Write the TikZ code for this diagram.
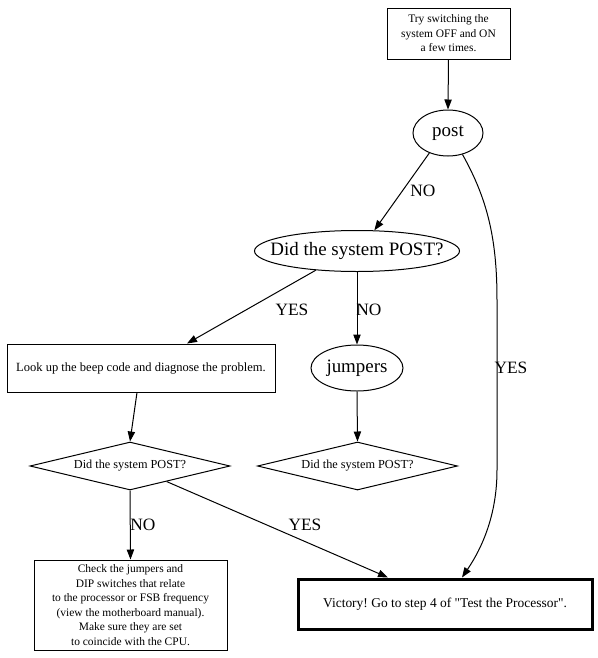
\documentclass[tikz,border=0pt]{standalone}
\usepackage{fontspec}
\setmainfont{Liberation Serif}[Ligatures=TeXOff]
\usetikzlibrary{shapes.geometric,arrows.meta}
\frenchspacing
\tikzset{
  base/.style={line width=0.75pt, inner sep=0pt, align=center},
  boxnode/.style={base, draw, rectangle},
  ellnode/.style={base, draw, ellipse, font=\fontsize{14.2}{17}\selectfont},
  dianode/.style={base, draw, diamond, font=\fontsize{9.2}{11}\selectfont, minimum width=150pt, minimum height=36pt},
  small/.style={font=\fontsize{8.6}{10.9}\selectfont},
  conn/.style={line width=0.75pt, -{Triangle[length=7.5pt,width=5.5pt]}},
  lbl/.style={font=\fontsize{13}{15}\selectfont, inner sep=0pt}
}
\begin{document}
\begin{tikzpicture}[x=0.75pt,y=-0.75pt]
\useasboundingbox (0,0) rectangle (598,658);
% nodes
\node[boxnode, small, minimum width=92.25pt, minimum height=38.25pt] (top) at (448.5,33.5)
  {Try switching the\\system OFF and ON\\a few times.};
\node[ellnode, minimum width=52.5pt, minimum height=34.5pt] (post) at (448,133) {\makebox[0pt]{post}};
\node[ellnode, minimum width=153.75pt, minimum height=30.75pt] (did) at (357,251) {\makebox[0pt]{Did the system POST?}};
\node[boxnode, font=\fontsize{9.4}{11}\selectfont, minimum width=201pt, minimum height=36pt] (lookup) at (141,368)
  {Look up the beep code and diagnose the problem.};
\node[ellnode, minimum width=69pt, minimum height=34.5pt] (jumpers) at (357,368) {\makebox[0pt]{jumpers}};
\node[dianode] (d1) at (130,466) {\makebox[0pt]{Did the system POST?}};
\node[dianode] (d2) at (357.5,466) {\makebox[0pt]{Did the system POST?}};
\node[boxnode, small, minimum width=144.75pt, minimum height=67.5pt] (check) at (130.5,605)
  {Check the jumpers and\\DIP switches that relate\\to the processor or FSB frequency\\(view the motherboard manual).\\Make sure they are set\\to coincide with the CPU.};
\node[boxnode, line width=2.25pt, font=\fontsize{10.1}{12}\selectfont, minimum width=220.5pt, minimum height=37.5pt] (victory) at (445,604)
  {Victory! Go to step 4 of "Test the Processor".};
% connectors
\draw[conn] (top.south) -- (post.north);
\draw[conn] (post.-133) -- (did.50);
\draw[conn] (post.-56) .. controls (488,200) and (497,240) .. (497,300) -- (497,470) .. controls (497,515) and (482,548) .. ([xshift=12.75pt]victory.north);
\draw[conn] (did.205) -- ([xshift=34.5pt]lookup.north);
\draw[conn] (did.south) -- (jumpers.north);
\draw[conn] ([xshift=-3pt]lookup.south) -- (d1.north);
\draw[conn] (jumpers.south) -- (d2.north);
\draw[conn] (d1.south) -- (check.north);
\draw[conn] (d1.-23) -- ([xshift=-42.75pt]victory.north);
% labels
\node[lbl] (l1) at (423,191) {NO};
\node[lbl] (l2) at (511,368) {YES};
\node[lbl] (l3) at (292,310) {YES};
\node[lbl] (l4) at (369,310) {NO};
\node[lbl] (l5) at (143,525) {NO};
\node[lbl] (l6) at (305,525) {YES};
\end{tikzpicture}
\end{document}
